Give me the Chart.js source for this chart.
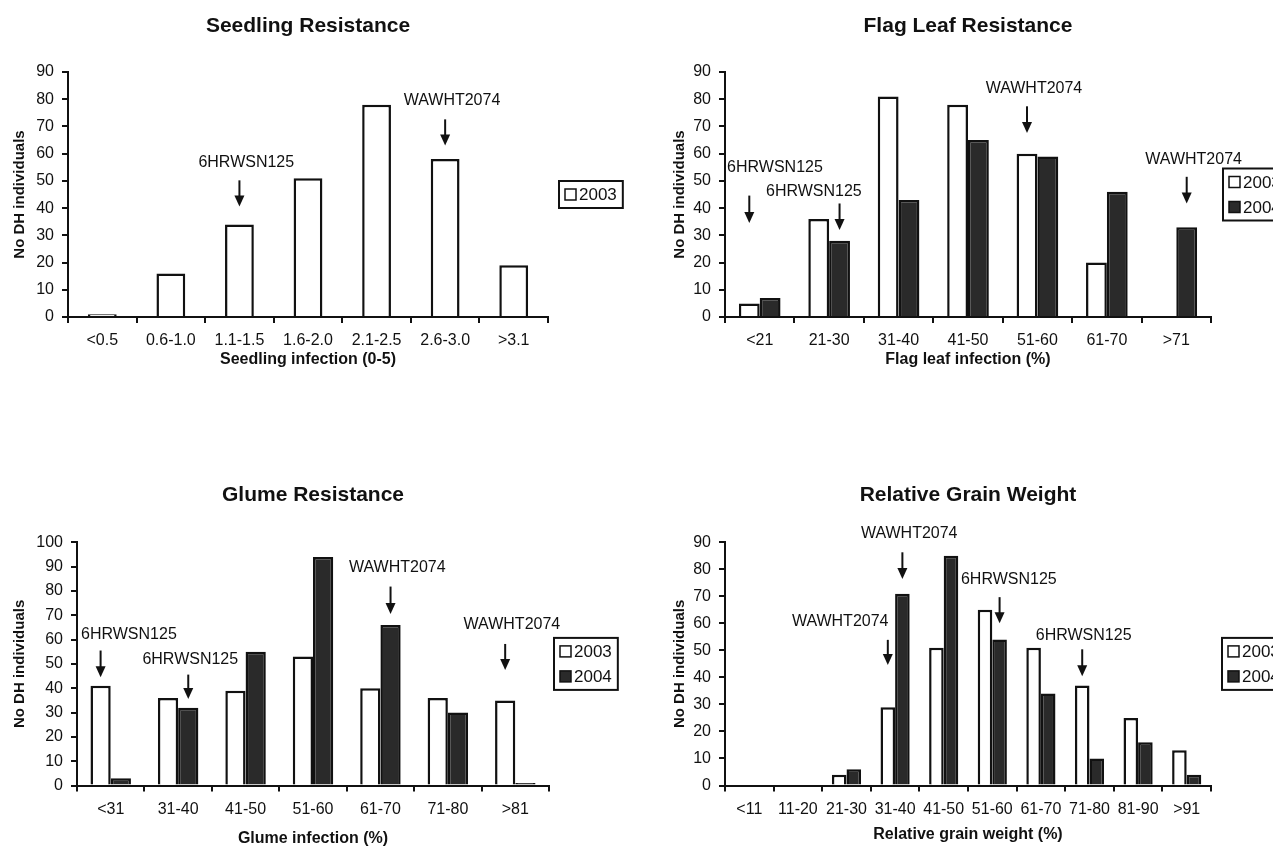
<!DOCTYPE html>
<html>
<head>
<meta charset="utf-8">
<title>Seedling, flag leaf, glume resistance and grain weight</title>
<script src="https://cdn.jsdelivr.net/npm/chart.js@4/dist/chart.umd.min.js"></script>
<style>
  html, body { margin: 0; padding: 0; background: #fff; width: 1273px; height: 848px; overflow: hidden; }
  canvas { position: absolute; }
</style>
</head>
<body>
<canvas id="seedling" width="640" height="400" style="left:0;top:0"></canvas>
<canvas id="flagleaf" width="680" height="400" style="left:660px;top:0"></canvas>
<canvas id="glume" width="640" height="408" style="left:0;top:440px"></canvas>
<canvas id="grain" width="680" height="408" style="left:660px;top:440px"></canvas>
<script>
// categories and counts (number of DH lines per class)
const seedlingCats = ['<0.5', '0.6-1.0', '1.1-1.5', '1.6-2.0', '2.1-2.5', '2.6-3.0', '>3.1'];
const seedling2003 = [1, 16, 34, 51, 78, 58, 19];

const flagCats = ['<21', '21-30', '31-40', '41-50', '51-60', '61-70', '>71'];
const flag2003 = [5, 36, 81, 78, 60, 20, 0];
const flag2004 = [7, 28, 43, 65, 59, 46, 33];

const glumeCats = ['<31', '31-40', '41-50', '51-60', '61-70', '71-80', '>81'];
const glume2003 = [41, 36, 39, 53, 40, 36, 35];
const glume2004 = [3, 32, 55, 94, 66, 30, 1];

const grainCats = ['<11', '11-20', '21-30', '31-40', '41-50', '51-60', '61-70', '71-80', '81-90', '>91'];
const grain2003 = [0, 0, 4, 29, 51, 65, 51, 37, 25, 13];
const grain2004 = [0, 0, 6, 71, 85, 54, 34, 10, 16, 4];

// parent lines marked with arrows: bar (category, series), label / arrow heights in axis units,
// dx = label shift in category widths
const seedlingMarks = [
  { text: '6HRWSN125', cat: 2, series: 0, textY: 56.6, from: 50.2, to: 40.6, dx: 0.1 },
  { text: 'WAWHT2074', cat: 5, series: 0, textY: 79.6, from: 72.6, to: 63, dx: 0.1 }
];
const flagMarks = [
  { text: '6HRWSN125', cat: 0, series: 0, textY: 54.9, from: 44.6, to: 34.5, dx: 0.37 },
  { text: '6HRWSN125', cat: 1, series: 1, textY: 46, from: 41.7, to: 32, dx: -0.37 },
  { text: 'WAWHT2074', cat: 4, series: 0, textY: 84, from: 77.4, to: 67.6, dx: 0.1 },
  { text: 'WAWHT2074', cat: 6, series: 1, textY: 58, from: 51.5, to: 41.7, dx: 0.1 }
];
const glumeMarks = [
  { text: '6HRWSN125', cat: 0, series: 0, textY: 62, from: 55.5, to: 44.5, dx: 0.42 },
  { text: '6HRWSN125', cat: 1, series: 1, textY: 51.8, from: 45.6, to: 35.6, dx: 0.03 },
  { text: 'WAWHT2074', cat: 4, series: 1, textY: 89.5, from: 81.8, to: 70.5, dx: 0.1 },
  { text: 'WAWHT2074', cat: 6, series: 0, textY: 66.2, from: 58.2, to: 47.5, dx: 0.1 }
];
const grainMarks = [
  { text: 'WAWHT2074', cat: 3, series: 1, textY: 93.3, from: 86.3, to: 76.4, dx: 0.14 },
  { text: 'WAWHT2074', cat: 3, series: 0, textY: 60.8, from: 53.9, to: 44.6, dx: -0.98 },
  { text: '6HRWSN125', cat: 5, series: 1, textY: 76.2, from: 69.7, to: 60, dx: 0.19 },
  { text: '6HRWSN125', cat: 7, series: 0, textY: 55.6, from: 50.4, to: 40.4, dx: 0.03 }
];

const FONT = "'Liberation Sans', Arial, sans-serif";
Chart.defaults.font.family = FONT;
Chart.defaults.color = '#111';

// arrows + line names drawn over the bars
function arrowNotes(marks) {
  return {
    id: 'arrowNotes',
    afterDatasetsDraw(chart) {
      const { ctx } = chart;
      const xs = chart.scales.x, ys = chart.scales.y;
      const step = xs.getPixelForValue(1) - xs.getPixelForValue(0);
      ctx.save();
      ctx.fillStyle = '#111';
      ctx.strokeStyle = '#111';
      ctx.font = '16px ' + FONT;
      ctx.textAlign = 'center';
      ctx.textBaseline = 'middle';
      marks.forEach(m => {
        const ax = chart.getDatasetMeta(m.series).data[m.cat].x;
        const y0 = ys.getPixelForValue(m.from);
        const y1 = ys.getPixelForValue(m.to);
        ctx.fillText(m.text, ax + m.dx * step, ys.getPixelForValue(m.textY));
        ctx.lineWidth = 2;
        ctx.beginPath();
        ctx.moveTo(ax, y0);
        ctx.lineTo(ax, y1 - 8);
        ctx.stroke();
        ctx.beginPath();
        ctx.moveTo(ax - 5, y1 - 11);
        ctx.lineTo(ax + 5, y1 - 11);
        ctx.lineTo(ax, y1);
        ctx.closePath();
        ctx.fill();
      });
      ctx.restore();
    }
  };
}

// Excel-like legend: framed box right of the plot
function boxedLegend(gap) {
  return {
    id: 'boxedLegend',
    afterDraw(chart) {
      const { ctx, chartArea } = chart;
      const sets = chart.data.datasets;
      ctx.save();
      ctx.font = '17px ' + FONT;
      const textW = Math.max(...sets.map(d => ctx.measureText(d.label).width));
      const rowH = 25;
      const w = 6 + 11 + 3 + textW + 6;
      const h = sets.length * rowH + 2;
      const left = chartArea.right + gap;
      const top = (chartArea.top + chartArea.bottom) / 2 - h / 2;
      ctx.strokeStyle = '#111';
      ctx.lineWidth = 2;
      ctx.strokeRect(left, top, w, h);
      sets.forEach((d, i) => {
        const cy = top + 1 + rowH * (i + 0.5);
        ctx.fillStyle = d.backgroundColor;
        ctx.fillRect(left + 6, cy - 5.5, 11, 11);
        ctx.lineWidth = 1.5;
        ctx.strokeRect(left + 6, cy - 5.5, 11, 11);
        ctx.fillStyle = '#111';
        ctx.textBaseline = 'middle';
        ctx.fillText(d.label, left + 20, cy + 1);
      });
      ctx.restore();
    }
  };
}

function makeChart(id, p) {
  const fills = ['#ffffff', '#2a2a2a'];
  return new Chart(document.getElementById(id), {
    type: 'bar',
    data: {
      labels: p.labels,
      datasets: p.series.map((s, i) => ({
        label: s.label,
        data: s.data,
        backgroundColor: fills[i],
        borderColor: '#111',
        borderWidth: 2.5,
        categoryPercentage: p.series.length === 1 ? 0.42 : 0.6,
        barPercentage: 1
      }))
    },
    options: {
      responsive: false,
      animation: false,
      layout: { padding: { left: 0, right: p.padRight, top: 0, bottom: 0 } },
      plugins: {
        legend: { display: false },
        tooltip: { enabled: false },
        title: {
          display: true,
          text: p.title,
          fullSize: false,
          color: '#111',
          font: { size: 21, weight: 'bold' },
          padding: { top: p.titleTop, bottom: p.titleBottom }
        }
      },
      scales: {
        x: {
          afterFit: s => { s.height = p.xHeight; },
          ticks: { padding: 8, font: { size: 16 }, maxRotation: 0, autoSkip: false },
          grid: { drawOnChartArea: false, tickLength: 6, lineWidth: 2, color: '#111', offset: true },
          border: { color: '#111', width: 2 },
          title: {
            display: true,
            text: p.xTitle,
            color: '#111',
            font: { size: 16, weight: 'bold' },
            padding: { top: 0, bottom: p.xTitleBottom }
          }
        },
        y: {
          min: 0,
          max: p.yMax,
          afterFit: s => { s.width = p.yWidth; },
          ticks: { stepSize: 10, padding: 8, font: { size: 16 } },
          grid: { drawOnChartArea: false, tickLength: 6, lineWidth: 2, color: '#111' },
          border: { color: '#111', width: 2 },
          title: {
            display: true,
            text: 'No DH individuals',
            color: '#111',
            font: { size: 15, weight: 'bold' },
            padding: { top: 11, bottom: 0 }
          }
        }
      }
    },
    plugins: [arrowNotes(p.marks), boxedLegend(p.legendGap)]
  });
}

makeChart('seedling', {
  title: 'Seedling Resistance', xTitle: 'Seedling infection (0-5)',
  labels: seedlingCats, series: [{ label: '2003', data: seedling2003 }], marks: seedlingMarks,
  yMax: 90, yWidth: 68, padRight: 92, xHeight: 83, xTitleBottom: 31,
  titleTop: 13.4, titleBottom: 33.4, legendGap: 11
});

makeChart('flagleaf', {
  title: 'Flag Leaf Resistance', xTitle: 'Flag leaf infection (%)',
  labels: flagCats, series: [{ label: '2003', data: flag2003 }, { label: '2004', data: flag2004 }], marks: flagMarks,
  yMax: 90, yWidth: 65, padRight: 129, xHeight: 83, xTitleBottom: 31,
  titleTop: 13.4, titleBottom: 33.4, legendGap: 12
});

makeChart('glume', {
  title: 'Glume Resistance', xTitle: 'Glume infection (%)',
  labels: glumeCats, series: [{ label: '2003', data: glume2003 }, { label: '2004', data: glume2004 }], marks: glumeMarks,
  yMax: 100, yWidth: 77, padRight: 91, xHeight: 62.5, xTitleBottom: 0,
  titleTop: 42.4, titleBottom: 34.7, legendGap: 5
});

makeChart('grain', {
  title: 'Relative Grain Weight', xTitle: 'Relative grain weight (%)',
  labels: grainCats, series: [{ label: '2003', data: grain2003 }, { label: '2004', data: grain2004 }], marks: grainMarks,
  yMax: 90, yWidth: 65, padRight: 129, xHeight: 62.5, xTitleBottom: 4,
  titleTop: 42.4, titleBottom: 34.7, legendGap: 11
});
</script>
</body>
</html>
